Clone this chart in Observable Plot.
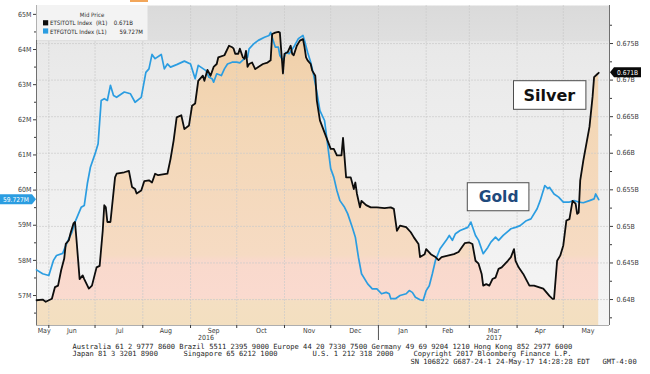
<!DOCTYPE html>
<html>
<head>
<meta charset="utf-8">
<script src="https://cdn.jsdelivr.net/npm/d3@7"></script>
<script src="https://cdn.jsdelivr.net/npm/@observablehq/plot@0.6"></script>
<style>
  html, body { margin: 0; padding: 0; background: #ffffff; }
  #chart svg { display: block; overflow: visible; }
</style>
</head>
<body>
<div id="chart"></div>
<script>
// ---------------- DATA ----------------
// Gold ETF holdings (ETFGTOTL Index, left axis, million oz)
const goldDates = ["2016-05-24","2016-05-28","2016-06-01","2016-06-04","2016-06-06","2016-06-10","2016-06-12","2016-06-14","2016-06-16","2016-06-18","2016-06-22","2016-06-24","2016-06-26","2016-06-28","2016-07-01","2016-07-03","2016-07-05","2016-07-07","2016-07-09","2016-07-11","2016-07-13","2016-07-15","2016-07-20","2016-07-24","2016-07-27","2016-07-31","2016-08-03","2016-08-05","2016-08-07","2016-08-09","2016-08-13","2016-08-15","2016-08-17","2016-08-19","2016-08-23","2016-08-28","2016-09-01","2016-09-04","2016-09-06","2016-09-11","2016-09-13","2016-09-15","2016-09-16","2016-09-18","2016-09-21","2016-09-23","2016-09-25","2016-09-28","2016-10-01","2016-10-03","2016-10-06","2016-10-08","2016-10-09","2016-10-12","2016-10-15","2016-10-19","2016-10-22","2016-10-23","2016-10-25","2016-10-26","2016-10-28","2016-10-29","2016-10-31","2016-11-02","2016-11-04","2016-11-07","2016-11-10","2016-11-13","2016-11-14","2016-11-16","2016-11-18","2016-11-20","2016-11-22","2016-11-24","2016-11-27","2016-12-01","2016-12-03","2016-12-05","2016-12-07","2016-12-10","2016-12-12","2016-12-15","2016-12-17","2016-12-19","2016-12-21","2016-12-25","2016-12-28","2016-12-31","2017-01-03","2017-01-06","2017-01-08","2017-01-09","2017-01-12","2017-01-15","2017-01-19","2017-01-21","2017-01-23","2017-01-25","2017-01-28","2017-01-30","2017-02-01","2017-02-03","2017-02-05","2017-02-07","2017-02-10","2017-02-14","2017-02-16","2017-02-18","2017-02-20","2017-02-23","2017-02-28","2017-03-02","2017-03-05","2017-03-07","2017-03-10","2017-03-13","2017-03-15","2017-03-18","2017-03-20","2017-03-23","2017-03-28","2017-03-31","2017-04-03","2017-04-07","2017-04-10","2017-04-14","2017-04-16","2017-04-19","2017-04-21","2017-04-22","2017-04-25","2017-04-28","2017-05-01","2017-05-05","2017-05-08","2017-05-11","2017-05-14","2017-05-18","2017-05-21","2017-05-22","2017-05-24"];
const goldValues = [57.73,57.62,57.57,58.00,58.14,58.20,58.42,58.62,58.80,59.09,59.51,59.56,60.18,60.65,61.03,61.32,62.55,62.60,62.55,62.98,62.69,62.64,62.79,62.74,62.50,62.64,63.35,63.45,63.86,63.74,63.86,63.45,63.59,63.50,63.57,63.67,63.59,63.17,63.55,63.40,63.21,63.17,63.07,63.31,63.26,63.45,63.59,63.64,63.64,63.62,63.74,63.78,64.02,64.16,64.26,64.35,64.40,64.49,64.21,64.07,64.07,63.83,63.69,63.92,63.88,64.07,64.31,64.40,64.26,63.92,63.64,63.26,62.79,62.26,61.98,60.61,60.37,59.99,59.70,59.51,59.33,58.94,58.66,58.09,57.62,57.33,57.19,57.19,57.05,57.09,57.05,56.91,56.91,57.00,57.05,57.14,57.09,56.95,56.88,56.86,57.14,57.28,57.62,58.00,58.33,58.57,58.71,58.57,58.76,58.85,58.94,59.09,58.71,58.57,58.19,58.37,58.52,58.66,58.57,58.71,58.90,58.94,58.99,59.13,59.18,59.47,59.70,60.13,60.04,60.08,59.89,59.80,59.66,59.66,59.70,59.66,59.64,59.70,59.75,59.89,59.727];

// Silver ETF holdings (ETSITOTL Index, right axis, billion oz)
const silverDates = ["2016-05-24","2016-05-28","2016-05-30","2016-06-03","2016-06-05","2016-06-07","2016-06-09","2016-06-11","2016-06-12","2016-06-14","2016-06-15","2016-06-17","2016-06-18","2016-06-19","2016-06-21","2016-06-23","2016-06-24","2016-06-27","2016-06-29","2016-07-02","2016-07-04","2016-07-06","2016-07-07","2016-07-08","2016-07-09","2016-07-11","2016-07-14","2016-07-15","2016-07-20","2016-07-23","2016-07-25","2016-07-27","2016-07-28","2016-07-31","2016-08-02","2016-08-05","2016-08-07","2016-08-09","2016-08-11","2016-08-17","2016-08-19","2016-08-21","2016-08-23","2016-08-26","2016-08-28","2016-08-31","2016-09-02","2016-09-04","2016-09-06","2016-09-09","2016-09-10","2016-09-12","2016-09-14","2016-09-16","2016-09-18","2016-09-19","2016-09-23","2016-09-26","2016-09-28","2016-09-29","2016-09-30","2016-10-02","2016-10-03","2016-10-05","2016-10-06","2016-10-07","2016-10-08","2016-10-09","2016-10-11","2016-10-13","2016-10-15","2016-10-18","2016-10-21","2016-10-23","2016-10-24","2016-10-26","2016-10-28","2016-10-29","2016-10-31","2016-11-01","2016-11-03","2016-11-05","2016-11-06","2016-11-07","2016-11-09","2016-11-11","2016-11-13","2016-11-14","2016-11-15","2016-11-16","2016-11-18","2016-11-19","2016-11-21","2016-11-22","2016-11-24","2016-12-01","2016-12-03","2016-12-05","2016-12-08","2016-12-09","2016-12-11","2016-12-14","2016-12-16","2016-12-17","2016-12-18","2016-12-20","2016-12-21","2016-12-24","2016-12-27","2016-12-31","2017-01-05","2017-01-09","2017-01-11","2017-01-13","2017-01-15","2017-01-19","2017-01-22","2017-01-24","2017-01-27","2017-01-28","2017-01-31","2017-02-01","2017-02-04","2017-02-07","2017-02-09","2017-02-11","2017-02-15","2017-02-19","2017-02-22","2017-02-26","2017-03-01","2017-03-03","2017-03-05","2017-03-07","2017-03-09","2017-03-10","2017-03-12","2017-03-14","2017-03-16","2017-03-18","2017-03-20","2017-03-22","2017-03-26","2017-03-28","2017-03-30","2017-03-31","2017-04-02","2017-04-05","2017-04-09","2017-04-12","2017-04-15","2017-04-18","2017-04-22","2017-04-24","2017-04-25","2017-04-27","2017-04-29","2017-05-01","2017-05-03","2017-05-05","2017-05-07","2017-05-09","2017-05-10","2017-05-11","2017-05-12","2017-05-14","2017-05-18","2017-05-20","2017-05-21","2017-05-23","2017-05-24"];
const silverValues = [0.6399,0.6400,0.6397,0.6401,0.6417,0.6419,0.6440,0.6456,0.6476,0.6481,0.6490,0.6504,0.6506,0.6481,0.6428,0.6433,0.6428,0.6415,0.6419,0.6444,0.6446,0.6494,0.6529,0.6526,0.6506,0.6506,0.6567,0.6572,0.6574,0.6576,0.6554,0.6551,0.6545,0.6549,0.6562,0.6563,0.6560,0.6572,0.6570,0.6572,0.6592,0.6617,0.6649,0.6652,0.6633,0.6638,0.6665,0.6668,0.6699,0.6706,0.6699,0.6714,0.6706,0.6718,0.6722,0.6731,0.6734,0.6747,0.6745,0.6743,0.6736,0.6736,0.6743,0.6731,0.6729,0.6740,0.6718,0.6722,0.6724,0.6715,0.6718,0.6722,0.6724,0.6727,0.6763,0.6765,0.6766,0.6765,0.6709,0.6736,0.6738,0.6747,0.6736,0.6734,0.6747,0.6754,0.6756,0.6745,0.6731,0.6727,0.6722,0.6713,0.6706,0.6672,0.6645,0.6606,0.6606,0.6597,0.6597,0.6621,0.6567,0.6567,0.6551,0.6560,0.6545,0.6526,0.6535,0.6529,0.6526,0.6526,0.6525,0.6526,0.6524,0.6494,0.6501,0.6499,0.6492,0.6485,0.6476,0.6458,0.6462,0.6469,0.6462,0.6458,0.6454,0.6458,0.6460,0.6462,0.6465,0.6477,0.6478,0.6476,0.6453,0.6449,0.6435,0.6419,0.6421,0.6419,0.6428,0.6430,0.6442,0.6444,0.6453,0.6458,0.6469,0.6453,0.6444,0.6435,0.6419,0.6419,0.6417,0.6415,0.6405,0.6401,0.6401,0.6453,0.6460,0.6474,0.6508,0.6510,0.6535,0.6531,0.6517,0.6519,0.6563,0.6590,0.6636,0.6677,0.6704,0.6708,0.6710];

// Axis ticks / labels
const rightTicks = [0.64, 0.645, 0.65, 0.655, 0.66, 0.665, 0.67, 0.675];
const rightTickLabels = ["0.64B","0.645B","0.65B","0.655B","0.66B","0.665B","0.67B","0.675B"];
const rightMinorTicks = [0.6375, 0.6425, 0.6475, 0.6525, 0.6575, 0.6625, 0.6675, 0.6725, 0.6775];
const leftTicks = [57, 58, 59, 60, 61, 62, 63, 64, 65];
const leftTickLabels = ["57M","58M","59M","60M","61M","62M","63M","64M","65M"];
const leftMinorTicks = [56.5, 57.5, 58.5, 59.5, 60.5, 61.5, 62.5, 63.5, 64.5];
const monthStarts = ["2016-06-01","2016-07-01","2016-08-01","2016-09-01","2016-10-01","2016-11-01","2016-12-01","2017-01-01","2017-02-01","2017-03-01","2017-04-01","2017-05-01"];
const monthLabels = ["May","Jun","Jul","Aug","Sep","Oct","Nov","Dec","Jan","Feb","Mar","Apr","May"];
const monthLabelDates = ["2016-05-29","2016-06-16","2016-07-17","2016-08-16","2016-09-16","2016-10-17","2016-11-17","2016-12-17","2017-01-17","2017-02-15","2017-03-17","2017-04-16","2017-05-17"];
const yearLabels = ["2016","2017"];
const yearLabelDates = ["2016-09-11","2017-03-17"];
const yearBreak = "2017-01-01";
const xDomain = ["2016-05-24","2017-05-31"];
const yDomain = [0.63645, 0.68020];

// annotations (box extents and label anchor in data space)
const annotations = [
  {label: "Silver", color: "#111111", x1: "2017-03-30", x2: "2017-05-16", y1: 0.66985, y2: 0.66594, tx: "2017-04-22", ty: 0.66790, size: 16},
  {label: "Gold",   color: "#1f4a7d", x1: "2017-02-28", x2: "2017-04-09", y1: 0.65590, y2: 0.65207, tx: "2017-03-20", ty: 0.65399, size: 15.5}
];

const footer1 = "Australia 61 2 9777 8600 Brazil 5511 2395 9000 Europe 44 20 7330 7500 Germany 49 69 9204 1210 Hong Kong 852 2977 6000";
const footer2 = ["Japan 81 3 3201 8900", "Singapore 65 6212 1000", "U.S. 1 212 318 2000", "Copyright 2017 Bloomberg Finance L.P."];
const footer3 = ["SN 106822 G687-24-1 24-May-17 14:28:28 EDT", "GMT-4:00"];

// ---------------- BUILD ----------------
const D = s => new Date(s);
// left axis (M oz) aligned onto the right-axis (B oz) scale as in the picture
const toRight = m => 0.640547 + (m - 57) * 0.004805;

const gold = goldDates.map((d, i) => ({date: D(d), value: goldValues[i]}));
const silver = silverDates.map((d, i) => ({date: D(d), value: silverValues[i]}));
const months = monthLabels.map((m, i) => ({label: m, date: D(monthLabelDates[i])}));
const years = yearLabels.map((y, i) => ({label: y, date: D(yearLabelDates[i])}));
const annots = annotations.map(a => ({...a, x1: D(a.x1), x2: D(a.x2), tx: D(a.tx)}));
const rightLabel = new Map(rightTicks.map((t, i) => [t, rightTickLabels[i]]));
const leftPos = leftTicks.map(toRight);
const leftLabel = new Map(leftPos.map((t, i) => [t, leftTickLabels[i]]));

const AX = "'Liberation Sans Narrow','DejaVu Sans Condensed','Arial Narrow',sans-serif";
const MONO = "'DejaVu Sans Mono','Liberation Mono',monospace";
const gridStyle = {stroke: "#c9c9c9", strokeWidth: 0.8, strokeDasharray: "2,1", strokeOpacity: 0.85};

const chart = Plot.plot({
  width: 650,
  height: 374,
  marginLeft: 36,
  marginRight: 41,
  marginTop: 5,
  marginBottom: 49,
  style: {fontFamily: AX, fontSize: "7px", color: "#3a3a3a", background: "#ffffff"},
  x: {type: "utc", domain: xDomain.map(D), axis: null},
  y: {domain: yDomain, axis: null},
  marks: [
    Plot.frame({fill: "url(#bgGrad)", stroke: "none"}),
    Plot.areaY(silver, {x: "date", y1: yDomain[0], y2: "value", fill: "url(#silverFill)"}),
    Plot.ruleY(rightTicks, gridStyle),
    Plot.ruleX(monthStarts.map(D), gridStyle),
    Plot.ruleX(xDomain.map(D), {stroke: "#6f6f6f", strokeWidth: 1}),
    Plot.ruleY([yDomain[0]], {stroke: "#9a9a9a", strokeWidth: 0.8}),
    Plot.line(gold, {x: "date", y: d => toRight(d.value), stroke: "#2b9de1", strokeWidth: 1.7}),
    Plot.line(silver, {x: "date", y: "value", stroke: "#0d0d0d", strokeWidth: 1.8}),
    Plot.rect(annots, {x1: "x1", x2: "x2", y1: "y1", y2: "y2", fill: "#ffffff", stroke: "#4d4d4d", strokeWidth: 1}),
    Plot.text(annots, {x: "tx", y: "ty", text: "label", fill: "color", fontSize: d => d.size, fontWeight: "bold", fontFamily: "'DejaVu Sans',Verdana,sans-serif"}),
    Plot.axisY(rightTicks, {anchor: "right", tickSize: 3, tickPadding: 4, tickFormat: d => rightLabel.get(d), fontSize: 7}),
    Plot.axisY(rightMinorTicks, {anchor: "right", tickSize: 2, tickFormat: () => ""}),
    Plot.axisY(leftPos, {anchor: "left", tickSize: 3, tickPadding: 2, tickFormat: d => leftLabel.get(d), fontSize: 7}),
    Plot.axisY(leftMinorTicks.map(toRight), {anchor: "left", tickSize: 2, tickFormat: () => ""}),
    Plot.axisX(monthStarts.map(D), {anchor: "bottom", tickSize: 3, tickFormat: () => ""}),
    Plot.axisX([D(yearBreak)], {anchor: "bottom", tickSize: 15, tickFormat: () => "", stroke: "#555"}),
    Plot.text(months, {x: "date", text: "label", frameAnchor: "bottom", dy: 5, lineAnchor: "middle", fontSize: 7, fill: "#3a3a3a"}),
    Plot.text(years, {x: "date", text: "label", frameAnchor: "bottom", dy: 12.5, lineAnchor: "middle", fontSize: 7, fill: "#3a3a3a"}),
    Plot.text([footer1], {frameAnchor: "bottom-left", dx: 36, dy: 21, textAnchor: "start", lineAnchor: "middle", fontFamily: MONO, fontSize: 7.1, fill: "#1e1e1e"}),
    Plot.text([footer2[0]], {frameAnchor: "bottom-left", dx: 36, dy: 28.5, textAnchor: "start", lineAnchor: "middle", fontFamily: MONO, fontSize: 7.1, fill: "#1e1e1e"}),
    Plot.text([footer2[1]], {frameAnchor: "bottom-left", dx: 147, dy: 28.5, textAnchor: "start", lineAnchor: "middle", fontFamily: MONO, fontSize: 7.1, fill: "#1e1e1e"}),
    Plot.text([footer2[2]], {frameAnchor: "bottom-left", dx: 276, dy: 28.5, textAnchor: "start", lineAnchor: "middle", fontFamily: MONO, fontSize: 7.1, fill: "#1e1e1e"}),
    Plot.text([footer2[3]], {frameAnchor: "bottom-left", dx: 377, dy: 28.5, textAnchor: "start", lineAnchor: "middle", fontFamily: MONO, fontSize: 7.1, fill: "#1e1e1e"}),
    Plot.text([footer3[0]], {frameAnchor: "bottom-left", dx: 374, dy: 36, textAnchor: "start", lineAnchor: "middle", fontFamily: MONO, fontSize: 7.1, fill: "#1e1e1e"}),
    Plot.text([footer3[1]], {frameAnchor: "bottom-left", dx: 566, dy: 36, textAnchor: "start", lineAnchor: "middle", fontFamily: MONO, fontSize: 7.1, fill: "#1e1e1e"})
  ]
});

document.getElementById("chart").appendChild(chart);

// ---------------- DECORATION (gradients, legend, value tags) ----------------
const svg = d3.select(chart);
const defs = svg.insert("defs", ":first-child");
function grad(id, stops) {
  const g = defs.append("linearGradient").attr("id", id)
    .attr("gradientUnits", "userSpaceOnUse").attr("x1", 0).attr("x2", 0).attr("y1", 5).attr("y2", 325);
  stops.forEach(([o, c]) => g.append("stop").attr("offset", o).attr("stop-color", c));
}
grad("bgGrad", [[0, "#dadada"], [0.11, "#dfdfdf"], [0.113, "#e8e8e8"], [0.3, "#ececec"], [1, "#f5f5f5"]]);
grad("silverFill", [[0, "#efcda4"], [0.36, "#f3d7b6"], [0.78, "#f6dbc3"], [0.80, "#f9d9cc"], [0.915, "#fadacf"], [0.925, "#f4dfc2"], [1, "#f3dfc0"]]);

const sy = chart.scale("y");
const yPx = v => sy.apply ? sy.apply(v) : d3.scaleLinear(sy.domain, sy.range)(v);

const deco = svg.append("g").attr("font-family", AX).attr("text-anchor", "start");
// small orange marker at top
deco.append("rect").attr("x", 130).attr("y", 0).attr("width", 18).attr("height", 2).attr("fill", "#f2a65a");
// legend box
const lg = deco.append("g");
lg.append("rect").attr("x", 36.5).attr("y", 5).attr("width", 111).attr("height", 35).attr("fill", "#f3f3f3");
lg.append("text").attr("x", 92).attr("y", 16.5).attr("text-anchor", "middle").attr("font-size", 6).attr("fill", "#333").text("Mid Price");
const lastSilver = silverValues[silverValues.length - 1];
const lastGold = goldValues[goldValues.length - 1];
const legendRows = [
  {color: "#0d0d0d", name: "ETSITOTL Index", axis: "(R1)", value: lastSilver.toFixed(3) + "B", end: 133, y: 25.4},
  {color: "#2b9de1", name: "ETFGTOTL Index", axis: "(L1)", value: lastGold.toFixed(3) + "M", end: 143, y: 33.6}
];
legendRows.forEach(r => {
  lg.append("rect").attr("x", 43).attr("y", r.y - 5.2).attr("width", 5.2).attr("height", 5.2).attr("fill", r.color);
  lg.append("text").attr("x", 50).attr("y", r.y).attr("text-anchor", "start").attr("font-size", 6).attr("fill", "#222").text(r.name);
  lg.append("text").attr("x", 96).attr("y", r.y).attr("text-anchor", "start").attr("font-size", 6).attr("fill", "#222").text(r.axis);
  lg.append("text").attr("x", r.end).attr("y", r.y).attr("text-anchor", "end").attr("font-size", 6).attr("fill", "#222").text(r.value);
});

// value tags on the axes
function tag(yc, side, fill, label) {
  const h = 10;
  let pts, tx;
  if (side === "right") {
    const x0 = 610, x1 = 641;
    pts = [[x0, yc], [x0 + 4, yc - h / 2], [x1, yc - h / 2], [x1, yc + h / 2], [x0 + 4, yc + h / 2]];
    tx = (x0 + 4 + x1) / 2;
  } else {
    const x0 = 36, x1 = 0;
    pts = [[x0, yc], [x0 - 4, yc - h / 2], [x1, yc - h / 2], [x1, yc + h / 2], [x0 - 4, yc + h / 2]];
    tx = (x0 - 4) / 2;
  }
  deco.append("polygon").attr("points", pts.map(p => p.join(",")).join(" ")).attr("fill", fill);
  deco.append("text").attr("x", tx).attr("y", yc).attr("dy", "0.35em").attr("text-anchor", "middle")
    .attr("font-size", 6.6).attr("fill", "#ffffff").text(label);
}
tag(yPx(lastSilver), "right", "#0a0a0a", lastSilver.toFixed(3) + "B");
tag(yPx(toRight(lastGold)), "left", "#2b9de1", lastGold.toFixed(3) + "M");
</script>
</body>
</html>
